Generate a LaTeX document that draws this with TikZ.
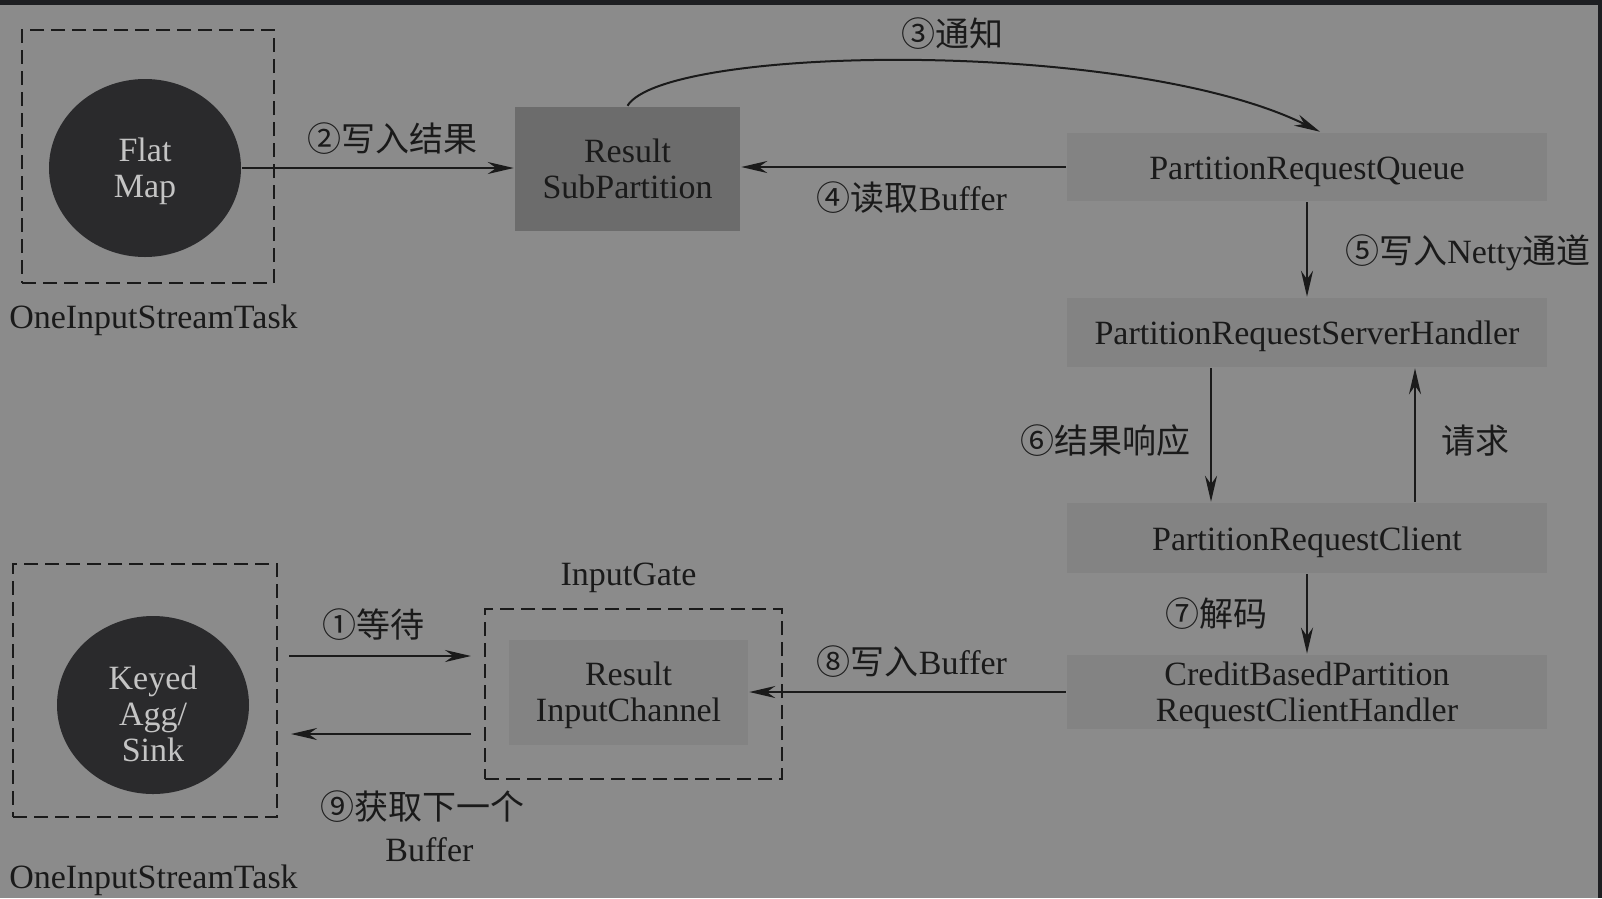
\documentclass[tikz,border=0pt]{standalone}
\usepackage{fontspec}
\setmainfont{Liberation Serif}
\newfontfamily\cjk{Noto Sans CJK SC}
\usetikzlibrary{arrows.meta,positioning,shapes.geometric}

\definecolor{bg_gray}{HTML}{8B8B8B}
\definecolor{edge_dark}{HTML}{1E1F22}
\definecolor{sub_gray}{HTML}{6C6C6C}
\definecolor{box_gray}{HTML}{838383}
\definecolor{op_dark}{HTML}{2A2A2C}
\definecolor{op_text}{HTML}{C4C4C4}
\definecolor{ink}{HTML}{1A1A1A}

% invisible strut to push a node text down
\newcommand{\dropby}[1]{\rule{0pt}{#1}}

\begin{document}
\begin{tikzpicture}[x=1pt, y=-1pt, line width=2.5pt, draw=ink, text=ink,
    font=\fontsize{34}{36}\selectfont,
    box_style/.style = {rectangle, fill=box_gray, align=center, inner sep=0pt, minimum width=480pt},
    op_style/.style = {ellipse, fill=op_dark, text=op_text, align=center, inner sep=0pt,
                       minimum width=192pt, minimum height=178pt},
    task_style/.style = {rectangle, draw=ink, line width=2pt, dash pattern=on 14pt off 7pt, inner sep=0pt},
    label_style/.style = {inner sep=0pt, align=center},
    arrow_style/.style = {-{Stealth[length=26pt, width=12pt]}, draw=ink}]

% background and dark edges
\fill[bg_gray] (0,0) rectangle (1602,898);
\fill[edge_dark] (0,0) rectangle (1602,5);
\fill[edge_dark] (1598,0) rectangle (1602,898);
\useasboundingbox (0,0) rectangle (1602,898);

% upstream task
\node[task_style, minimum width=252pt, minimum height=253pt] (3) at (148,156.5) {};
\node[op_style] (1) at (145,168) {\dropby{31pt}Flat\\Map};
\node[label_style, anchor=west] (13) at (8,320) {OneInputStreamTask};

\node[box_style, fill=sub_gray, minimum width=225pt, minimum height=124pt] (2) at (627.5,169) {Result\\SubPartition};

% netty side
\node[box_style, minimum height=68pt] (4) at (1307,167) {\dropby{33pt}PartitionRequestQueue};
\node[box_style, minimum height=69pt] (5) at (1307,332.5) {\dropby{31pt}PartitionRequestServerHandler};
\node[box_style, minimum height=70pt] (6) at (1307,538) {\dropby{33pt}PartitionRequestClient};
\node[box_style, minimum height=72pt] (7) at (1307,692) {\dropby{31pt}CreditBasedPartition\\RequestClientHandler};

% downstream task
\node[task_style, minimum width=264pt, minimum height=253pt] (11) at (145,690.5) {};
\node[op_style] (12) at (153,705) {\dropby{41pt}Keyed\\Agg/\\Sink};
\node[label_style, anchor=west] (14) at (8,880) {OneInputStreamTask};

\node[task_style, minimum width=297pt, minimum height=170pt] (10) at (633.5,694) {};
\node[box_style, minimum width=239pt, minimum height=105pt] (9) at (628.5,692.5) {\dropby{30pt}Result\\InputChannel};
\node[label_style, above=14pt of 10, xshift=-5pt] (15) {InputGate};

% FlatMap to subpartition
\draw[arrow_style] (1.east) -- node[label_style, above=12pt, pos=0.555] {\cjk ②写入结果} (1.east -| 2.west);

% subpartition notifies queue
\draw[arrow_style, line width=2pt] (2.north) .. controls (665,45) and (1130,38) ..
    node[label_style, above=10pt, xshift=36pt, pos=0.5] {\cjk ③通知} ([xshift=13pt]4.north);

% queue reads buffer
\draw[arrow_style] (4.west) -- node[label_style, below=13pt, pos=0.474] {{\cjk ④读取}Buffer} (4.west -| 2.east);

% queue to server handler
\draw[arrow_style] (4.south) -- node[label_style, right=37pt, pos=0.53] {{\cjk ⑤写入}Netty{\cjk 通道}} (5.north);

% server handler to client
\draw[arrow_style] ([xshift=-96pt]5.south) -- node[label_style, left=19pt, pos=0.54] {\cjk ⑥结果响应} ([xshift=-96pt]6.north);

% client requests
\draw[arrow_style] ([xshift=108pt]6.north) -- node[label_style, right=25pt, pos=0.46] {\cjk 请求} ([xshift=108pt]5.south);

% client to handler
\draw[arrow_style] (6.south) -- node[label_style, left=38pt, pos=0.5] {\cjk ⑦解码} (7.north);

% handler writes buffer
\draw[arrow_style] (7.west) -- node[label_style, above=13.5pt, pos=0.486] {{\cjk ⑧写入}Buffer} (7.west -| 9.east);

% task waits on input gate
\draw[arrow_style] ([xshift=11pt, yshift=34.5pt]11.east) -- node[label_style, above=14pt, pos=0.467] {\cjk ①等待} ([xshift=-13pt, yshift=38pt]10.west);

% next buffer back to task
\draw[arrow_style] ([xshift=-13pt, yshift=-40pt]10.west) -- node[label_style, below=55pt, pos=0.27] {{\cjk ⑨获取下一个}\\[6pt]\hspace*{14pt}Buffer} ([xshift=13pt, yshift=-43.5pt]11.east);

\end{tikzpicture}
\end{document}
